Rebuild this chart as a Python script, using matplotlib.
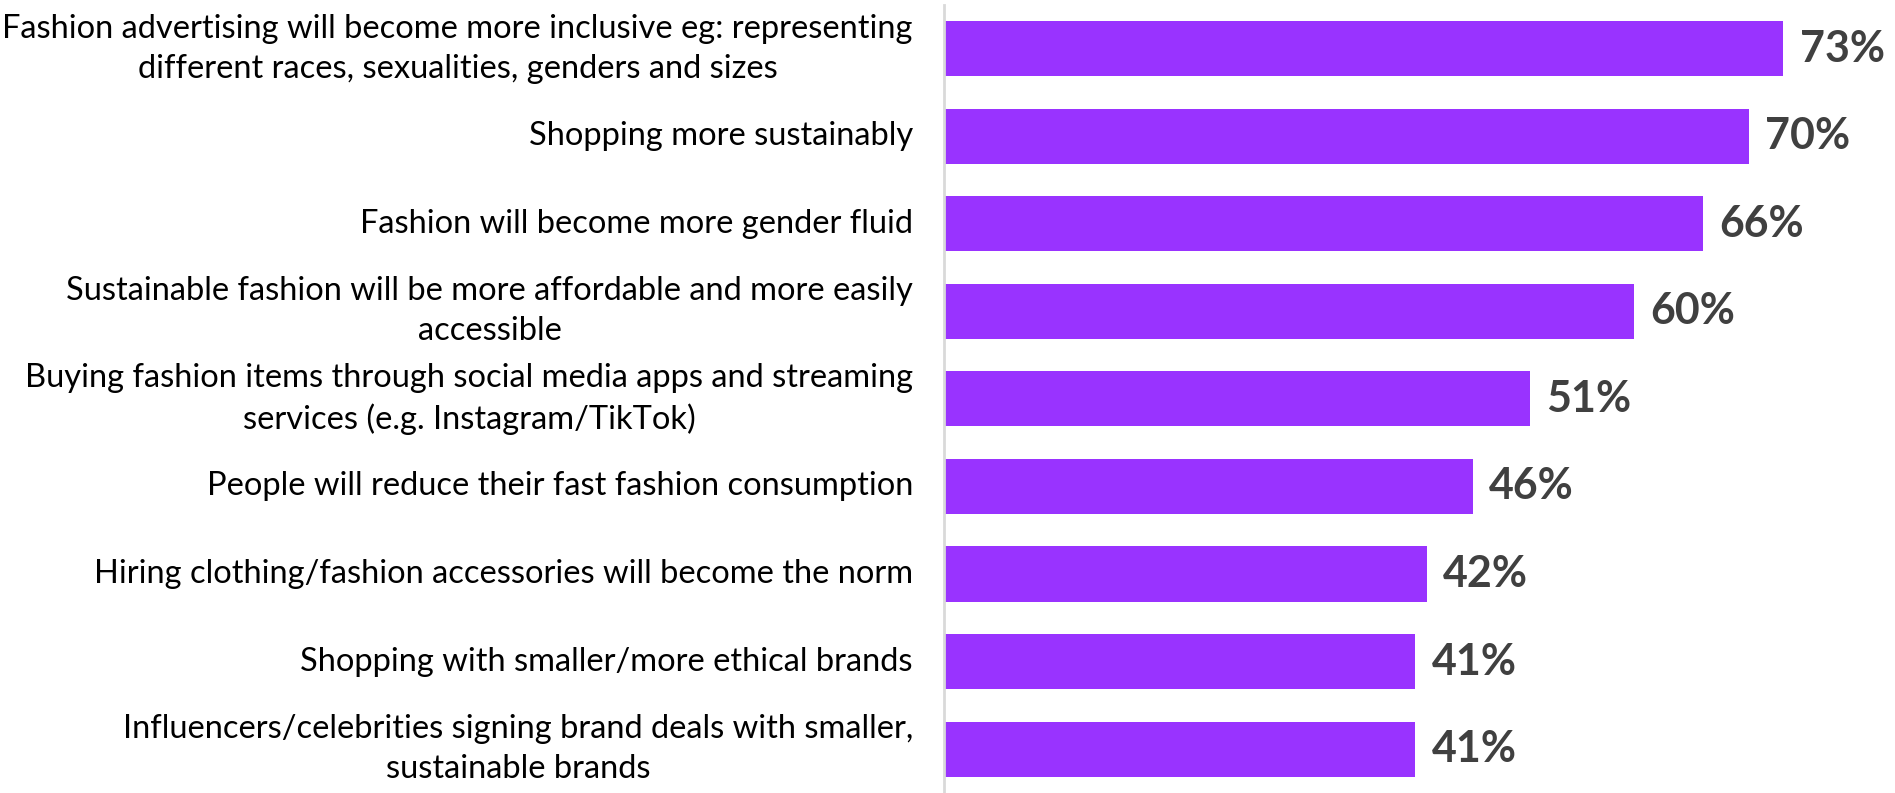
import numpy as np
import matplotlib
matplotlib.use('Agg')
import matplotlib.pyplot as plt

# survey data
labels = [
    'Fashion advertising will become more inclusive eg: representing\ndifferent races, sexualities, genders and sizes',
    'Shopping more sustainably',
    'Fashion will become more gender fluid',
    'Sustainable fashion will be more affordable and more easily\naccessible',
    'Buying fashion items through social media apps and streaming\nservices (e.g. Instagram/TikTok)',
    'People will reduce their fast fashion consumption',
    'Hiring clothing/fashion accessories will become the norm',
    'Shopping with smaller/more ethical brands',
    'Influencers/celebrities signing brand deals with smaller,\nsustainable brands',
]
values = [73, 70, 66, 60, 51, 46, 42, 41, 41]

# style parameters
bar_color   = '#9933ff'
label_color = '#000000'
value_color = '#404040'
axis_color  = '#d9d9d9'

fig = plt.figure(figsize=(18.95, 7.93), dpi=100)
ax = fig.add_axes([944/1895, 0, 1 - 944/1895, 0.994])

ypos = np.arange(len(values))
ax.barh(ypos, values, height=0.63, color=bar_color)
ax.set_ylim(len(values) - 0.5, -0.5)
ax.set_xlim(0, 82.7)

# value labels
for y, v in zip(ypos, values):
    ax.text(v + 1.4, y, str(v) + '%', va='center', ha='left',
            fontsize=31, fontweight='bold', family='Lato', color=value_color)

# category labels
for y, lab in zip(ypos, labels):
    ax.text(-2.7, y, lab, va='center', ha='right', multialignment='center',
            fontsize=23.5, family='Lato', color=label_color, linespacing=1.42)

for s in ['top', 'right', 'bottom']:
    ax.spines[s].set_visible(False)
ax.spines['left'].set_color(axis_color)
ax.spines['left'].set_linewidth(2)
ax.set_xticks([])
ax.set_yticks([])

fig.savefig('out.png', dpi=100)
